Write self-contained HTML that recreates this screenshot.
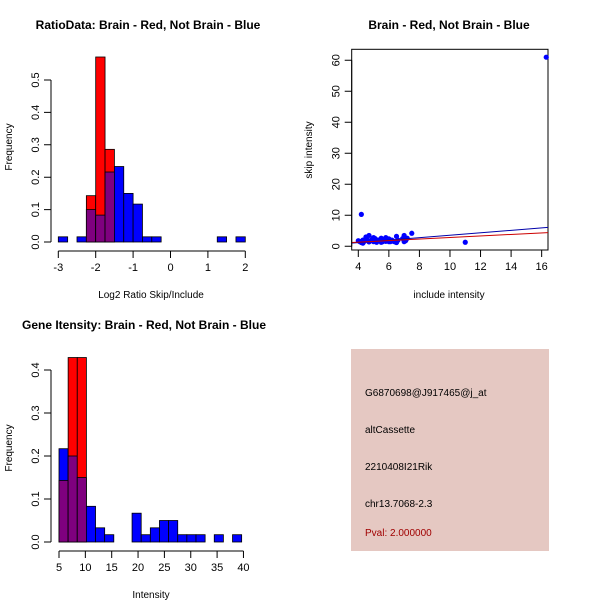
<!DOCTYPE html>
<html><head><meta charset="utf-8"><style>
body{margin:0;background:#fff}
svg{display:block;font-family:"Liberation Sans",sans-serif}
</style></head><body>
<svg id="s" width="600" height="600" viewBox="0 0 600 600" xmlns="http://www.w3.org/2000/svg">
<text x="148" y="29" font-size="12" font-weight="bold" text-anchor="middle">RatioData: Brain - Red, Not Brain - Blue</text>
<text x="449" y="29" font-size="12" font-weight="bold" text-anchor="middle">Brain - Red, Not Brain - Blue</text>
<text x="144" y="329" font-size="12" font-weight="bold" text-anchor="middle">Gene Itensity: Brain - Red, Not Brain - Blue</text>
<text x="151" y="298" font-size="10" text-anchor="middle">Log2 Ratio Skip/Include</text>
<text x="151" y="598" font-size="10" text-anchor="middle">Intensity</text>
<text x="449" y="298" font-size="10" text-anchor="middle">include intensity</text>
<text transform="translate(12,147) rotate(-90)" font-size="10" text-anchor="middle">Frequency</text>
<text transform="translate(12,448) rotate(-90)" font-size="10" text-anchor="middle">Frequency</text>
<text transform="translate(312,150) rotate(-90)" font-size="10" text-anchor="middle">skip intensity</text>
<g>
<rect x="351" y="349" width="198" height="202" fill="#e5c8c2"/>
<text x="365" y="396" font-size="10">G6870698@J917465@j_at</text>
<text x="365" y="433" font-size="10">altCassette</text>
<text x="365" y="470" font-size="10">2210408I21Rik</text>
<text x="365" y="507" font-size="10">chr13.7068-2.3</text>
<text x="365" y="536" font-size="10" fill="#a00000">Pval: 2.000000</text>
</g>
</svg>
<script>
// Ratio histogram data
const ratioStart = -3, ratioBin = 0.25;
const ratioBlue = [0.016,0,0.016,0.1,0.083,0.216,0.233,0.15,0.117,0.016,0.016,0,0,0,0,0,0,0.016,0,0.016];
const ratioRed  = [0,0,0,0.143,0.571,0.286,0,0,0,0,0,0,0,0,0,0,0,0,0,0];
const ratioXTicks = [-3,-2,-1,0,1,2];
const ratioYTicks = [0,0.1,0.2,0.3,0.4,0.5];
// Intensity histogram data
const intStart = 5, intBin = 1.733;
const intBlue = [0.217,0.2,0.15,0.083,0.033,0.017,0,0,0.067,0.017,0.033,0.05,0.05,0.017,0.017,0.017,0,0.017,0,0.017];
const intRed  = [0.143,0.429,0.429,0,0,0,0,0,0,0,0,0,0,0,0,0,0,0,0,0];
const intXTicks = [5,10,15,20,25,30,35,40];
const intYTicks = [0,0.1,0.2,0.3,0.4];
// Scatter data
const scX = [4.0,4.1,4.2,4.3,4.4,4.5,4.6,4.7,4.8,4.9,5.0,5.1,5.2,5.3,5.4,5.5,5.6,5.7,5.8,5.9,6.0,6.1,6.2,6.3,6.4,6.5,6.6,6.9,7.0,7.1,7.2,7.5,4.2,11.0,16.3,4.5,4.7,5.0,5.5,6.0,6.5,7.0,4.3,5.2,5.8];
const scY = [1.8,1.5,1.2,2.0,1.6,2.5,2.0,3.5,1.8,2.2,1.5,2.5,1.3,2.0,1.8,2.6,1.5,2.2,1.6,1.9,2.4,1.5,2.0,1.6,1.4,3.2,2.0,2.5,3.5,1.8,2.6,4.2,10.3,1.3,61,3.0,1.4,2.8,1.3,1.5,1.2,1.5,1.0,1.6,2.8];
const lineX = [3.5,16.7];
const blueLineY = [1.0,6.2];
const redLineY = [1.2,4.5];
const scXTicks = [4,6,8,10,12,14,16];
const scYTicks = [0,10,20,30,40,50,60];

const svg = document.getElementById('s');
const NS = 'http://www.w3.org/2000/svg';
function mk(tag, at){const e=document.createElementNS(NS,tag);for(const k in at)e.setAttribute(k,at[k]);svg.appendChild(e);return e;}

function hist(cfg){
  const xs=v=>cfg.x0+(v-cfg.d0)*cfg.kx, ys=v=>cfg.y0-v*cfg.ky;
  for(let i=0;i<cfg.blue.length;i++){
    const b=cfg.blue[i], r=cfg.red[i];
    const l=xs(cfg.start+i*cfg.bin), w=xs(cfg.start+(i+1)*cfg.bin)-l;
    const hi=Math.max(b,r), lo=Math.min(b,r);
    if(hi>0){
      const e=mk('rect',{x:l,y:ys(hi),width:w,height:ys(0)-ys(hi),fill:b>=r?'#0000ff':'#ff0000',stroke:'#000','stroke-width':0.8});
      
      
    }
    if(lo>0){
      const e=mk('rect',{x:l,y:ys(lo),width:w,height:ys(0)-ys(lo),fill:'#7f007f',stroke:'#000','stroke-width':0.8});
      
      
    }
  }
  axes(cfg,xs,ys);
}
function axes(cfg,xs,ys){
  const ax=cfg.axisY, ay=cfg.axisX;
  const xa=mk('path',{d:`M${xs(cfg.xt[0])},${ay}H${xs(cfg.xt[cfg.xt.length-1])}`+cfg.xt.map(t=>`M${xs(t)},${ay}v7`).join(''),stroke:'#000',fill:'none'});
  
  
  cfg.xt.forEach(t=>{const e=mk('text',{x:xs(t),y:ay+20,'font-size':11,'text-anchor':'middle'});e.textContent=t;
    
    });
  const ya=mk('path',{d:`M${ax},${ys(cfg.yt[0])}V${ys(cfg.yt[cfg.yt.length-1])}`+cfg.yt.map(t=>`M${ax},${ys(t)}h-7`).join(''),stroke:'#000',fill:'none'});
  
  
  cfg.yt.forEach(t=>{const e=mk('text',{transform:`translate(${ax-12},${ys(t)}) rotate(-90)`,'font-size':11,'text-anchor':'middle'});e.textContent=t.toFixed(cfg.dec);
    
    });
}
hist({name:'ratio',blue:ratioBlue,red:ratioRed,start:ratioStart,bin:ratioBin,x0:58.3,d0:-3,kx:37.4,y0:242,ky:324,xt:ratioXTicks,yt:ratioYTicks,axisX:251,axisY:51,dec:1});
hist({name:'intensity',blue:intBlue,red:intRed,start:intStart,bin:intBin,x0:59,d0:5,kx:5.27,y0:542,ky:430,xt:intXTicks,yt:intYTicks,axisX:551,axisY:51,dec:1});

// scatter
(function(){
  const xs=v=>358.3+(v-4)*15.28, ys=v=>246.3-v*3.1;
  const box=mk('rect',{x:351.7,y:49.3,width:196.3,height:200.7,fill:'none',stroke:'#000'});
  
  
  const cp=mk('clipPath',{id:'cp'});svg.removeChild(cp);
  const r=document.createElementNS(NS,'rect');r.setAttribute('x',351.7);r.setAttribute('y',49.3);r.setAttribute('width',196.3);r.setAttribute('height',200.7);cp.appendChild(r);svg.appendChild(cp);
  scX.forEach((x,i)=>{const c=mk('circle',{cx:xs(x),cy:ys(scY[i]),r:2.6,fill:'#0000ff'});
    
    });
  const bl=mk('line',{x1:xs(lineX[0]),y1:ys(blueLineY[0]),x2:xs(lineX[1]),y2:ys(blueLineY[1]),stroke:'#0000aa','clip-path':'url(#cp)'});
  
  
  const rl=mk('line',{x1:xs(lineX[0]),y1:ys(redLineY[0]),x2:xs(lineX[1]),y2:ys(redLineY[1]),stroke:'#cc0000','clip-path':'url(#cp)'});
  
  
  axes({name:'scatter',xt:scXTicks,yt:scYTicks,axisX:250,axisY:351.7,dec:0},xs,ys);
})();
</script>
</body></html>
